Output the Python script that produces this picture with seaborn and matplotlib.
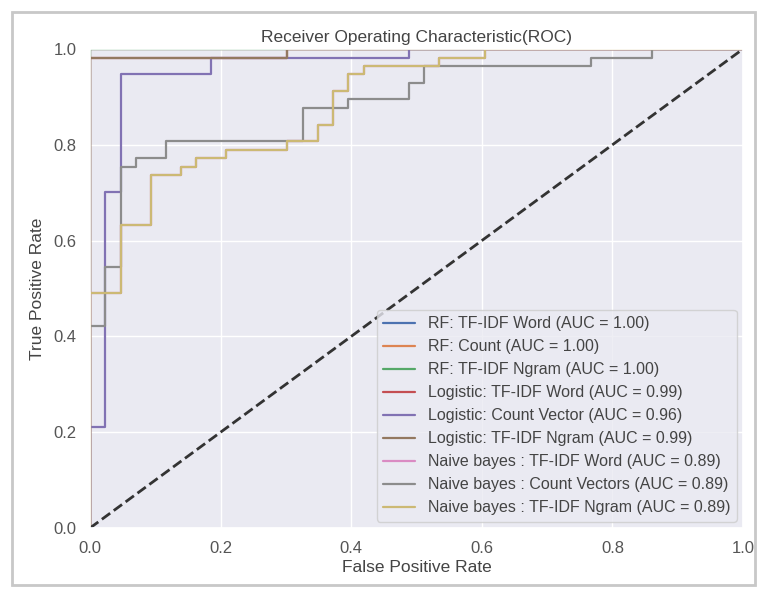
import matplotlib
matplotlib.use("Agg")
import matplotlib.pyplot as plt
import seaborn as sns
from matplotlib.patches import Rectangle

# ---- data ----
labels = [
    "RF: TF-IDF Word (AUC = 1.00)",
    "RF: Count (AUC = 1.00)",
    "RF: TF-IDF Ngram (AUC = 1.00)",
    "Logistic: TF-IDF Word (AUC = 0.99)",
    "Logistic: Count Vector (AUC = 0.96)",
    "Logistic: TF-IDF Ngram (AUC = 0.99)",
    "Naive bayes : TF-IDF Word (AUC = 0.89)",
    "Naive bayes : Count Vectors (AUC = 0.89)",
    "Naive bayes : TF-IDF Ngram (AUC = 0.89)",
]

rf_word_fpr = [0.0, 0.0, 1.0]
rf_word_tpr = [0.0, 1.0, 1.0]
rf_count_fpr = [0.0, 0.0, 1.0]
rf_count_tpr = [0.0, 1.0, 1.0]
rf_ngram_fpr = [0.0, 0.0, 1.0]
rf_ngram_tpr = [0.0, 1.0, 1.0]

lr_word_fpr = [0.0, 0.0, 0.302, 0.302, 1.0]
lr_word_tpr = [0.0, 0.982, 0.982, 1.0, 1.0]
lr_count_fpr = [0.0, 0.0, 0.023, 0.023, 0.047, 0.047, 0.186, 0.186, 0.488, 0.488, 1.0]
lr_count_tpr = [0.0, 0.211, 0.211, 0.702, 0.702, 0.947, 0.947, 0.982, 0.982, 1.0, 1.0]
lr_ngram_fpr = [0.0, 0.0, 0.302, 0.302, 1.0]
lr_ngram_tpr = [0.0, 0.982, 0.982, 1.0, 1.0]

nb_count_fpr = [0.0, 0.0, 0.023, 0.023, 0.047, 0.047, 0.070, 0.070, 0.116, 0.116,
                0.326, 0.326, 0.395, 0.395, 0.488, 0.488, 0.512, 0.512, 0.767, 0.767,
                0.860, 0.860, 1.0]
nb_count_tpr = [0.0, 0.421, 0.421, 0.544, 0.544, 0.754, 0.754, 0.772, 0.772, 0.807,
                0.807, 0.877, 0.877, 0.895, 0.895, 0.930, 0.930, 0.965, 0.965, 0.982,
                0.982, 1.0, 1.0]
nb_ngram_fpr = [0.0, 0.0, 0.047, 0.047, 0.093, 0.093, 0.140, 0.140, 0.163, 0.163,
                0.209, 0.209, 0.302, 0.302, 0.349, 0.349, 0.372, 0.372, 0.395, 0.395,
                0.419, 0.419, 0.535, 0.535, 0.605, 0.605, 1.0]
nb_ngram_tpr = [0.0, 0.491, 0.491, 0.632, 0.632, 0.737, 0.737, 0.754, 0.754, 0.772,
                0.772, 0.789, 0.789, 0.807, 0.807, 0.842, 0.842, 0.912, 0.912, 0.947,
                0.947, 0.965, 0.965, 0.982, 0.982, 1.0, 1.0]
nb_word_fpr = nb_ngram_fpr
nb_word_tpr = nb_ngram_tpr

curves = [
    (rf_word_fpr, rf_word_tpr),
    (rf_count_fpr, rf_count_tpr),
    (rf_ngram_fpr, rf_ngram_tpr),
    (lr_word_fpr, lr_word_tpr),
    (lr_count_fpr, lr_count_tpr),
    (lr_ngram_fpr, lr_ngram_tpr),
    (nb_word_fpr, nb_word_tpr),
    (nb_count_fpr, nb_count_tpr),
    (nb_ngram_fpr, nb_ngram_tpr),
]

# ---- style ----
sns.set_theme(style="darkgrid")
plt.rcParams["font.family"] = ["Liberation Sans", "DejaVu Sans"]
palette = sns.color_palette("deep", 10)

fig = plt.figure(figsize=(7.63, 5.95), dpi=100)
ax = fig.add_axes([90 / 763, 1 - 528 / 595, (743 - 90) / 763, (528 - 49) / 595])

for i, ((fpr, tpr), lab) in enumerate(zip(curves, labels)):
    sns.lineplot(x=fpr, y=tpr, ax=ax, sort=False, estimator=None,
                 color=palette[i], label=lab, linewidth=1.6)

sns.lineplot(x=[0.0, 1.0], y=[0.0, 1.0], ax=ax, sort=False, estimator=None,
             color="#333333", linestyle="--", linewidth=2, legend=False)

ax.set_xlim(0, 1)
ax.set_ylim(0, 1)
ax.set_xticks([0.0, 0.2, 0.4, 0.6, 0.8, 1.0])
ax.set_yticks([0.0, 0.2, 0.4, 0.6, 0.8, 1.0])
ax.tick_params(labelsize=12, colors="#555555")
ax.set_title("Receiver Operating Characteristic(ROC)", fontsize=12.5, color="#444444", pad=5)
ax.set_xlabel("False Positive Rate", fontsize=12.5, color="#444444", labelpad=3)
ax.set_ylabel("True Positive Rate", fontsize=12.5, color="#444444", labelpad=6)

leg = ax.legend(loc="lower right", fontsize=11.5, frameon=True,
                labelspacing=0.5, borderaxespad=0.4)
for t in leg.get_texts():
    t.set_color("#444444")

# screenshot frame
fig.patches.append(Rectangle((12 / 763, 1 - 585 / 595), (755 - 12) / 763, (585 - 12) / 595,
                             transform=fig.transFigure, fill=False,
                             edgecolor="#c8c8c8", linewidth=2))

fig.savefig("out.png", dpi=100)
